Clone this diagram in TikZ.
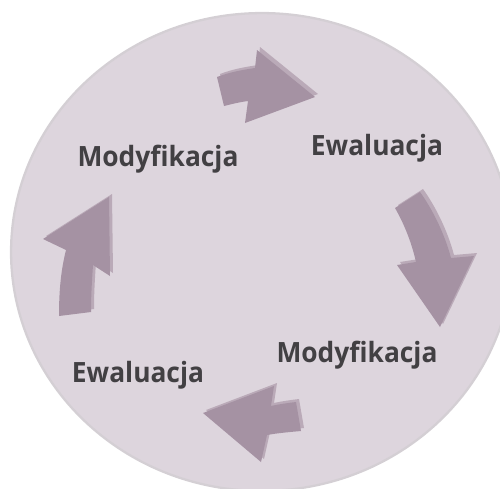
\documentclass[tikz,border=0pt]{standalone}
\usepackage{fontspec}
\setmainfont{Open Sans}
\definecolor{discfill}{RGB}{221,213,221}
\definecolor{discrim}{RGB}{212,207,212}
\definecolor{arrowmain}{RGB}{165,146,163}
\definecolor{arrowlight}{RGB}{186,170,184}
\definecolor{labeltext}{RGB}{66,64,67}
\tikzset{
  steplabel/.style={anchor=base, text=labeltext, font=\fontsize{15}{18}\selectfont\bfseries, inner sep=0pt, yscale=1.06},
  arrowback/.style={fill=arrowlight, shift={(3,-3)}},
  arrowfront/.style={fill=arrowmain}
}
\newcommand{\cyclearrow}[1]{\fill[arrowback] #1; \fill[arrowfront] #1;}
\begin{document}
\begin{tikzpicture}[x=0.02cm, y=-0.02cm]
        \useasboundingbox (0,0) rectangle (500,488);
        \clip (0,0) rectangle (500,488);
        % disc
        \filldraw [fill=discfill, draw=discrim, line width=1.3pt] (262,252) ellipse [x radius=5.02cm, y radius=4.78cm];
        % labels
        \foreach \name/\xpos/\ypos/\word in {mod1/158/166/Modyfikacja, ewa1/377/155/Ewaluacja, mod2/357/362/Modyfikacja, ewa2/138/382/Ewaluacja}
        {
            \node [steplabel] (\name) at (\xpos,\ypos) {\word};
        }
        % arrows
        \cyclearrow{(217,77) .. controls (230,72) and (242,70) .. (255,68) -- (257,50) -- (315,97) -- (245,123) -- (248,101) .. controls (240,102) and (232,104) .. (224,106) -- cycle}
        \cyclearrow{(395,208) .. controls (403,222) and (411,240) .. (416,262) -- (397,265) -- (440,327) -- (474,256) -- (451,258) .. controls (445,235) and (433,210) .. (420,192) -- cycle}
        \cyclearrow{(203,413) -- (274,386) -- (271,406) .. controls (280,404) and (288,403) .. (296,402) -- (301,431) .. controls (290,432) and (278,433) .. (267,435) -- (261,462) -- cycle}
        \cyclearrow{(109,197) -- (43,239) -- (66,250) .. controls (61,270) and (59,290) .. (59,316) -- (91,312) .. controls (91,295) and (92,280) .. (93,265) -- (110,276) -- cycle}
\end{tikzpicture}
\end{document}
